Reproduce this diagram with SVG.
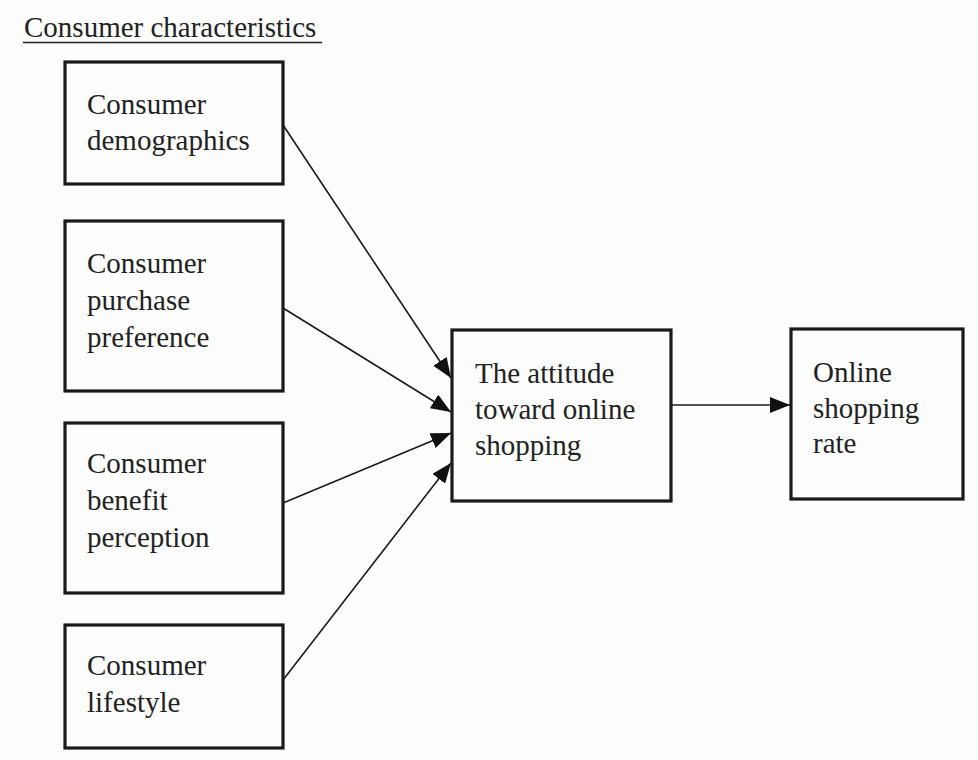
<svg xmlns="http://www.w3.org/2000/svg" width="978" height="760" viewBox="0 0 978 760">
<defs>
<marker id="ah" markerUnits="userSpaceOnUse" markerWidth="22" markerHeight="16" refX="20" refY="8" orient="auto">
<path d="M0,0 L20,8 L0,16 Z" fill="#111"/>
</marker>
<style>
.box{fill:none;stroke:#1a1a1a;stroke-width:3.2}
.t{font-family:"Liberation Serif","Times New Roman",serif;font-size:29px;fill:#222}
.c{stroke:#1a1a1a;stroke-width:1.6;fill:none;marker-end:url(#ah)}
</style>
</defs>
<rect width="978" height="760" fill="#fdfdfd"/>
<g id="title">
<text class="t" x="24" y="37">Consumer characteristics</text>
<line x1="23" y1="42.5" x2="322" y2="42.5" stroke="#222" stroke-width="1.6"/>
</g>
<g id="demographics">
<rect class="box" x="65" y="62" width="218" height="122"/>
<text class="t" x="87" y="114">Consumer</text>
<text class="t" x="87" y="150">demographics</text>
</g>
<g id="purchase">
<rect class="box" x="65" y="221" width="218" height="170"/>
<text class="t" x="87" y="273">Consumer</text>
<text class="t" x="87" y="310">purchase</text>
<text class="t" x="87" y="347">preference</text>
</g>
<g id="benefit">
<rect class="box" x="65" y="423" width="218" height="170"/>
<text class="t" x="87" y="473">Consumer</text>
<text class="t" x="87" y="510">benefit</text>
<text class="t" x="87" y="547">perception</text>
</g>
<g id="lifestyle">
<rect class="box" x="65" y="625" width="218" height="123"/>
<text class="t" x="87" y="675">Consumer</text>
<text class="t" x="87" y="712">lifestyle</text>
</g>
<g id="attitude">
<rect class="box" x="452" y="330" width="219" height="171"/>
<text class="t" x="475" y="383">The attitude</text>
<text class="t" x="475" y="419">toward online</text>
<text class="t" x="475" y="455">shopping</text>
</g>
<g id="rate">
<rect class="box" x="791" y="329" width="172" height="170"/>
<text class="t" x="813" y="382">Online</text>
<text class="t" x="813" y="418">shopping</text>
<text class="t" x="813" y="453">rate</text>
</g>
<g id="connectors">
<line class="c" x1="283" y1="125" x2="451" y2="378"/>
<line class="c" x1="283" y1="308" x2="451" y2="412"/>
<line class="c" x1="283" y1="503" x2="451" y2="433"/>
<line class="c" x1="283" y1="680" x2="451" y2="463"/>
<line class="c" x1="671" y1="405" x2="790" y2="405"/>
</g>
</svg>
